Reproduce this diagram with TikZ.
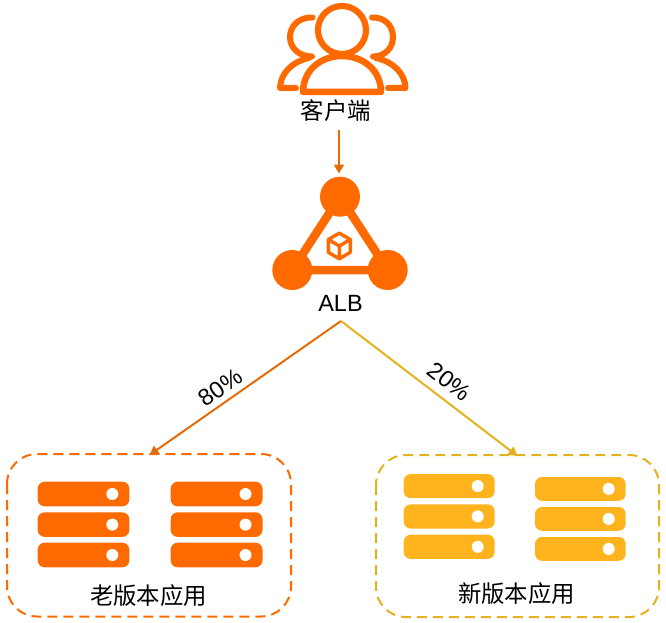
\documentclass[tikz,border=0pt]{standalone}
\usepackage{fontspec}
\setmainfont{Liberation Sans}
\newfontfamily\cjk{Noto Sans CJK SC}
\usetikzlibrary{arrows.meta}
\definecolor{brandorange}{HTML}{FF6A00}
\definecolor{linkorange}{HTML}{E36C09}
\definecolor{linkyellow}{HTML}{E3B21C}
\definecolor{srvyellow}{HTML}{FFB41E}
\tikzset{
  lbl/.style={inner sep=0pt,font=\fontsize{23.5}{23.5}\selectfont},
  zhlbl/.style={inner sep=0pt,font=\cjk\fontsize{23.4}{23.4}\selectfont},
  hub/.style={circle,fill=brandorange,draw=none,minimum size=40pt,inner sep=0pt},
  groupbox/.style={rounded corners=30pt,line width=2pt,dash pattern=on 10pt off 6pt},
  link/.style={line width=2pt,-{Triangle[length=9pt,width=10pt]}},
  person/.style={draw=brandorange,line cap=round,line join=round}
}
\newcommand{\srv}[5]{% x1,x2,y,height,color
  \fill[#5,rounded corners=7pt] (#1,#3) rectangle (#2,#3+#4);
  \fill[white] (#2-17,#3+#4/2) circle (6pt);
}
\begin{document}
\begin{tikzpicture}[x=1pt,y=-1pt]
\useasboundingbox (0,0) rectangle (666,623);
% client icon
\draw[person,line width=6pt] (312.5,17.5) .. controls (299,17) and (290,26) .. (290,37)
   .. controls (290,48) and (299,56.5) .. (312,56.5);
\draw[person,line width=6pt] (309,58) .. controls (291,62) and (280.5,74) .. (280,88) -- (296,88);
\draw[person,line width=6pt] (372,17.5) .. controls (385,17) and (393,26) .. (393,37)
   .. controls (393,48) and (385,56.5) .. (373,56.5);
\draw[person,line width=6pt] (376,58) .. controls (394,62) and (405,74) .. (405.5,88) -- (388,88);
\draw[person,line width=6.5pt,fill=white] (303,92) .. controls (303,71) and (320,56) .. (342,56)
   .. controls (364,56) and (381,71) .. (381,92) -- cycle;
\draw[person,line width=6.2pt,fill=white] (342,30) circle (24pt);
\node[zhlbl] (client) at (336,111) {客户端};
% ALB icon
\node[hub] (albt) at (340,196.7) {};
\node[hub] (albl) at (292.3,270) {};
\node[hub] (albr) at (387.7,270) {};
\draw[brandorange,line width=8.5pt] (albt.center) -- (albl.center) -- (albr.center) -- cycle;
\draw[brandorange,line width=3.4pt,line join=round]
  (339.3,233.2) -- (350.3,239.5) -- (350.3,252.3) -- (339.3,258.8) -- (328.3,252.3) -- (328.3,239.5) -- cycle
  (328.3,239.5) -- (339.3,246) -- (350.3,239.5) (339.3,246) -- (339.3,258.8);
\node[lbl] (alb) at (340.5,303) {ALB};
\coordinate (clientout) at (339,130);
\coordinate (albin) at (339,173.5);
\draw[link,linkorange] (clientout) -- (albin);
% groups
\draw[groupbox,brandorange] (7,454) rectangle (291,616.5);
\draw[groupbox,linkyellow] (376,455) rectangle (659,617);
\coordinate (fork) at (341,321);
\coordinate (oldin) at (149.5,455);
\coordinate (newin) at (517.5,456);
\draw[link,linkorange] (fork) -- (oldin);
\draw[link,linkyellow] (fork) -- (newin);
\node[lbl,rotate=35] (pa) at (220.5,387.5) {80\%};
\node[lbl,rotate=-38] (pb) at (449.5,382) {20\%};
% old servers
\foreach \y in {481.7,512.3,542.7}{
  \srv{37.7}{129.3}{\y}{24.6}{brandorange}
  \srv{170.7}{262.5}{\y}{24.6}{brandorange}
}
% new servers
\foreach \y in {474,504.3,534.7}{
  \srv{403.7}{494.7}{\y}{24.2}{srvyellow}
}
\foreach \y in {477,507,537}{
  \srv{535}{625.7}{\y}{23.8}{srvyellow}
}
\node[zhlbl] (oldlbl) at (148.5,596) {老版本应用};
\node[zhlbl] (newlbl) at (516.5,594) {新版本应用};
\end{tikzpicture}
\end{document}
